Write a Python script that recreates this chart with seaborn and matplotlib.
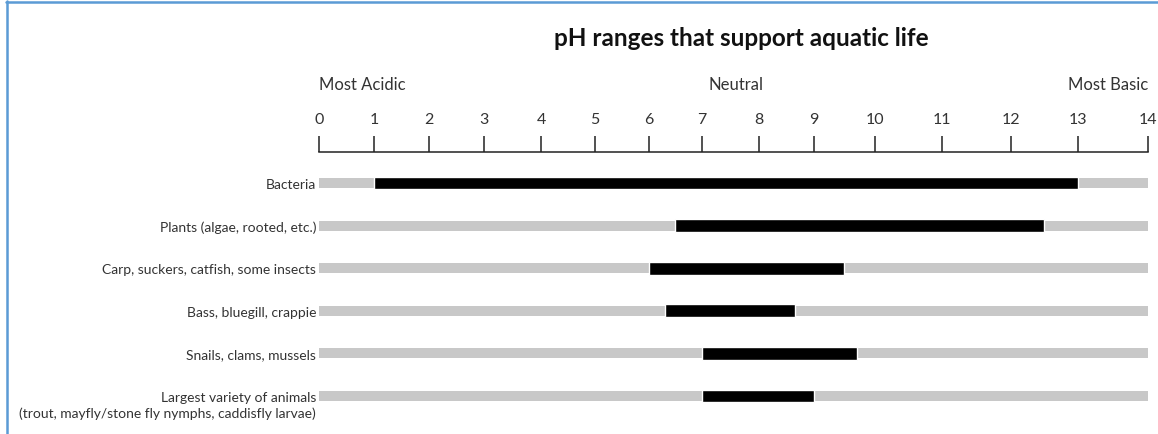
import numpy as np
import matplotlib
matplotlib.use("Agg")
import matplotlib.pyplot as plt
import matplotlib.transforms as mtransforms
from matplotlib.lines import Line2D
import seaborn as sns

# дані: діапазони pH для кожної групи
organisms = [
    "Bacteria",
    "Plants (algae, rooted, etc.)",
    "Carp, suckers, catfish, some insects",
    "Bass, bluegill, crappie",
    "Snails, clams, mussels",
    "Largest variety of animals",
]
last_note = "(trout, mayfly/stone fly nymphs, caddisfly larvae)"
ph_low = [1.0, 6.5, 6.0, 6.3, 7.0, 7.0]
ph_high = [13.0, 12.5, 9.5, 8.65, 9.7, 9.0]
ph_full = [14, 14, 14, 14, 14, 14]
ph_ticks = list(range(0, 15))
scale_labels = ["Most Acidic", "Neutral", "Most Basic"]

# шкала в оригіналі нерівномірна: піксельні позиції поділок
tick_px = [319, 374, 429, 484, 541, 595, 649, 702, 759, 814, 875, 942, 1011, 1078, 1148]

W, H = 1158, 435
sns.set_theme(style="white")
plt.rcParams["font.family"] = ["Lato", "DejaVu Sans"]

fig = plt.figure(figsize=(W / 100, H / 100), dpi=100)
ax_top, ax_bot = 162.7, 418.3
ax = fig.add_axes([319 / W, 1 - ax_bot / H, (1148 - 319) / W, (ax_bot - ax_top) / H])

# сірі смуги — вся шкала 0..14
sns.barplot(x=ph_full, y=organisms, color="#c8c8c8", saturation=1, width=0.235,
            linewidth=0, orient="h", ax=ax)
# чорні смуги — діапазон, що підтримує життя
lo = np.array(ph_low)
hi = np.array(ph_high)
ax.barh(np.arange(len(organisms)), hi - lo, left=lo, height=0.305, color="black")

ax.set_xscale("function", functions=(lambda v: np.interp(v, ph_ticks, tick_px),
                                      lambda v: np.interp(v, tick_px, ph_ticks)))
ax.set_xlim(0, 14)
ax.set_ylim(len(organisms) - 0.5, -0.5)
ax.set_xticks(ph_ticks)
ax.set_xticklabels([str(t) for t in ph_ticks])
ax.xaxis.tick_top()
ax.set_xlabel("")
ax.set_ylabel("")

for s in ["left", "right", "bottom"]:
    ax.spines[s].set_visible(False)
ax.spines["top"].set_position(("outward", 7))
ax.spines["top"].set_color("#222222")
ax.spines["top"].set_linewidth(1.1)
ax.tick_params(axis="x", direction="out", length=11.5, width=1.1, color="#222222",
               pad=7, labelsize=11.5, labelcolor="#333333")
ax.tick_params(axis="y", length=0, pad=2, labelsize=10, labelcolor="#333333")

# другий рядок останнього підпису
note_tr = mtransforms.offset_copy(ax.get_yaxis_transform(), fig=fig, x=-2, y=-11, units="points")
ax.text(0, len(organisms) - 1, last_note, transform=note_tr, ha="right", va="center_baseline",
        fontsize=10, color="#333333")

# підписи над шкалою
tr = mtransforms.blended_transform_factory(ax.transData, fig.transFigure)
y_lab = 1 - 85 / H
ax.text(0, y_lab, scale_labels[0], transform=tr, ha="left", va="center", fontsize=12, color="#333333")
ax.text(7.6, y_lab, scale_labels[1], transform=tr, ha="center", va="center", fontsize=12, color="#333333")
ax.text(14, y_lab, scale_labels[2], transform=tr, ha="right", va="center", fontsize=12, color="#333333")

fig.text(741 / W, 1 - 39 / H, "pH ranges that support aquatic life", ha="center", va="center",
         fontsize=17.5, fontweight="bold", color="#111111")

# синя рамка зверху і зліва
fig.add_artist(Line2D([7 / W, 7 / W], [0, 1 - 2 / H], transform=fig.transFigure,
                      color="#5b9bd5", lw=1.8))
fig.add_artist(Line2D([6 / W, 1], [1 - 3 / H, 1 - 3 / H], transform=fig.transFigure,
                      color="#5b9bd5", lw=1.8))

fig.savefig("out.png", dpi=100)
